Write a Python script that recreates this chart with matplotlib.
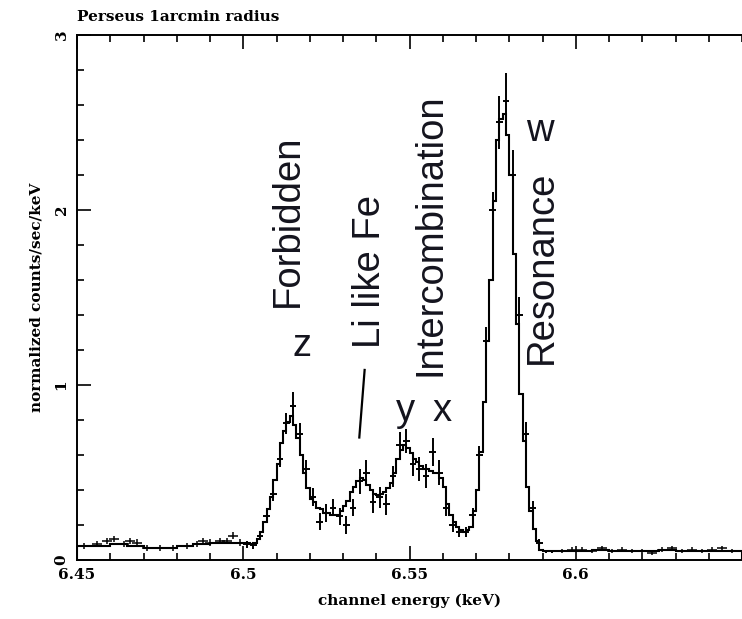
# -*- coding: utf-8 -*-
"""
plot.py

Fe XXV He-like triplet spectrum, Perseus 1 arcmin radius
"""
import numpy as np
from matplotlib import pyplot as plt

# ---- model (step curve) ----
# coarse bins 6.45-6.50 (0.005 keV)
model_left = [0.08, 0.08, 0.09, 0.08, 0.07, 0.07, 0.08, 0.09, 0.10, 0.10]
# fine bins 6.500-6.595 (0.001 keV)
model_mid = [0.10, 0.10, 0.09, 0.10, 0.12, 0.16, 0.22, 0.29, 0.36, 0.46,
             0.55, 0.67, 0.74, 0.79, 0.82, 0.77, 0.70, 0.60, 0.50, 0.41,
             0.35, 0.33, 0.30, 0.29, 0.27, 0.27, 0.26, 0.26, 0.26, 0.28,
             0.31, 0.34, 0.39, 0.42, 0.45, 0.47, 0.46, 0.43, 0.40, 0.38,
             0.37, 0.38, 0.39, 0.41, 0.44, 0.50, 0.58, 0.63, 0.66, 0.64,
             0.61, 0.58, 0.56, 0.54, 0.52, 0.52, 0.51, 0.50, 0.50, 0.47,
             0.42, 0.32, 0.26, 0.22, 0.19, 0.17, 0.16, 0.17, 0.19, 0.28,
             0.40, 0.62, 0.90, 1.25, 1.60, 2.05, 2.40, 2.52, 2.55, 2.43,
             2.20, 1.75, 1.35, 0.95, 0.68, 0.42, 0.28, 0.18, 0.11, 0.06,
             0.05, 0.05, 0.05, 0.05, 0.05]
# coarse bins 6.595-6.65 (0.005 keV)
model_right = [0.05, 0.05, 0.06, 0.05, 0.05, 0.05, 0.06, 0.05, 0.05, 0.05, 0.05]

# ---- data points (crosses) ----
data_e_left = [6.452, 6.456, 6.459, 6.461, 6.464, 6.466, 6.468, 6.471, 6.475,
               6.479, 6.483, 6.486, 6.488, 6.490, 6.493, 6.495, 6.497, 6.499]
data_v_left = [0.08, 0.09, 0.11, 0.12, 0.09, 0.11, 0.10, 0.07, 0.07,
               0.07, 0.08, 0.09, 0.11, 0.10, 0.11, 0.11, 0.14, 0.10]

data_e_mid = [6.501, 6.503, 6.505, 6.507, 6.509, 6.511, 6.513, 6.515, 6.517,
              6.519, 6.521, 6.523, 6.525, 6.527, 6.529, 6.531, 6.533, 6.535,
              6.537, 6.539, 6.541, 6.543, 6.545, 6.547, 6.549, 6.551, 6.553,
              6.555, 6.557, 6.559, 6.561, 6.563, 6.565, 6.567, 6.569, 6.571,
              6.573, 6.575, 6.577, 6.579, 6.581, 6.583, 6.585, 6.587, 6.589,
              6.591, 6.593]
data_v_mid = [0.09, 0.085, 0.14, 0.25, 0.38, 0.58, 0.78, 0.88, 0.72,
              0.52, 0.36, 0.22, 0.27, 0.30, 0.25, 0.20, 0.30, 0.45,
              0.50, 0.33, 0.36, 0.32, 0.48, 0.66, 0.68, 0.55, 0.52,
              0.48, 0.62, 0.50, 0.30, 0.20, 0.16, 0.16, 0.26, 0.60,
              1.25, 2.00, 2.50, 2.62, 2.20, 1.40, 0.72, 0.30, 0.10,
              0.05, 0.05]
data_err_mid = [0.02, 0.02, 0.025, 0.03, 0.04, 0.05, 0.06, 0.08, 0.06,
                0.05, 0.05, 0.05, 0.05, 0.05, 0.05, 0.05, 0.05, 0.07,
                0.07, 0.06, 0.06, 0.06, 0.06, 0.07, 0.07, 0.07, 0.07,
                0.07, 0.08, 0.07, 0.05, 0.04, 0.03, 0.03, 0.04, 0.05,
                0.08, 0.10, 0.15, 0.16, 0.14, 0.10, 0.07, 0.04, 0.02,
                0.01, 0.01]

data_e_right = [6.596, 6.599, 6.602, 6.605, 6.608, 6.611, 6.614, 6.617, 6.620,
                6.623, 6.626, 6.629, 6.632, 6.635, 6.638, 6.641, 6.644, 6.647]
data_v_right = [0.05, 0.06, 0.06, 0.05, 0.07, 0.05, 0.06, 0.05, 0.05,
                0.04, 0.06, 0.07, 0.05, 0.06, 0.05, 0.06, 0.07, 0.05]

labels = [('Forbidden', 6.5133, 1.94, 90), ('z', 6.5176, 1.22, 0),
          ('Li like Fe', 6.5380, 1.65, 90), ('Intercombination', 6.5563, 1.86, 90),
          ('y', 6.5488, 0.85, 0), ('x', 6.5599, 0.85, 0),
          ('w', 6.5892, 2.45, 0), ('Resonance', 6.5898, 1.67, 90)]

serif = {'family': 'DejaVu Serif', 'weight': 'bold'}

fig = plt.figure(figsize=(7.42, 6.19), dpi=100)
ax = fig.add_axes([0.1038, 0.0953, 0.8962, 0.8482])

edges = np.concatenate([np.linspace(6.45, 6.50, 11),
                        np.linspace(6.50, 6.595, 96)[1:],
                        np.linspace(6.595, 6.65, 12)[1:]])
model = np.array(model_left + model_mid + model_right)
ax.stairs(model, edges, color='black', lw=1.5)

ax.errorbar(data_e_left, data_v_left, xerr=0.0015, yerr=0.018,
            fmt='none', ecolor='black', elinewidth=1.1)
ax.errorbar(data_e_mid, data_v_mid, xerr=0.001, yerr=data_err_mid,
            fmt='none', ecolor='black', elinewidth=1.4)
ax.errorbar(data_e_right, data_v_right, xerr=0.0015, yerr=0.012,
            fmt='none', ecolor='black', elinewidth=1.1)

# pointer line from the Li-like label
ax.plot([6.5365, 6.5349], [1.086, 0.70], color='black', lw=1.6)

for txt, xe, yv, rot in labels:
    ax.text(xe, yv, txt, rotation=rot, ha='center', va='center',
            fontsize=27.5, family='Liberation Sans', color='#14141e')

ax.set_xlim(6.45, 6.649)
ax.set_ylim(0, 3)
ax.set_xticks([6.45, 6.5, 6.55, 6.6])
ax.set_xticklabels(['6.45', '6.5', '6.55', '6.6'], fontdict=serif, fontsize=11)
ax.set_xticks(np.arange(6.45, 6.65, 0.01), minor=True)
ax.set_yticks([0, 1, 2, 3])
ax.set_yticklabels(['0', '1', '2', '3'], fontdict=serif, fontsize=11,
                   rotation=90, va='center')
ax.set_yticks(np.arange(0, 3.01, 0.2), minor=True)
ax.tick_params(which='both', direction='in', top=True, right=False, width=1.2)
ax.tick_params(which='major', length=10, pad=6)
ax.tick_params(which='minor', length=5)
ax.spines['right'].set_visible(False)
for s in ['left', 'bottom', 'top']:
    ax.spines[s].set_linewidth(1.4)

ax.set_xlabel('channel energy (keV)', fontdict=serif, fontsize=11, labelpad=8)
ax.set_ylabel('normalized counts/sec/keV', fontdict=serif, fontsize=11, labelpad=8)
fig.text(0.1038, 0.972, 'Perseus 1arcmin radius', fontdict=serif, fontsize=11,
         ha='left', va='center')

fig.savefig('out.png', dpi=100)
